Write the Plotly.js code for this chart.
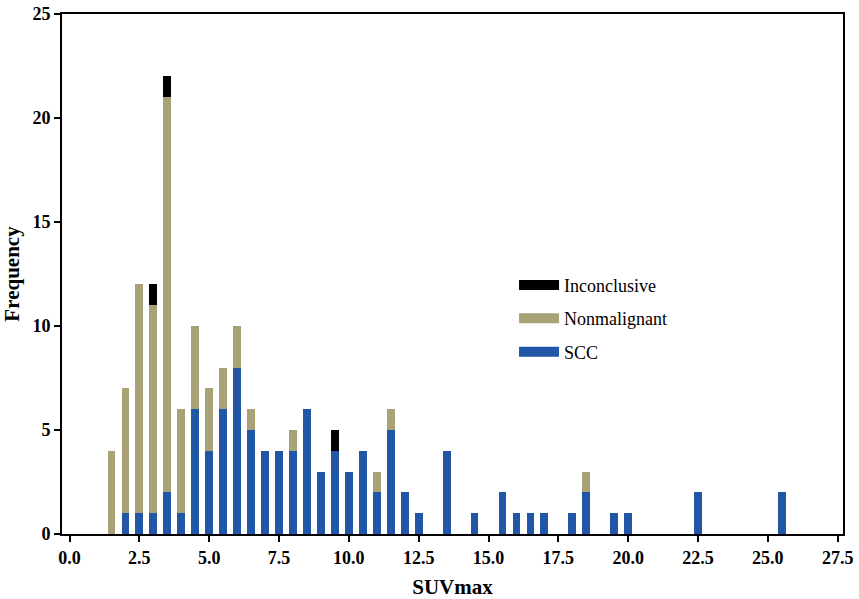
<!DOCTYPE html>
<html>
<head>
<meta charset="utf-8">
<script src="https://cdn.plot.ly/plotly-3.0.1.min.js"></script>
<style>html,body{margin:0;padding:0;background:#fff;}#chart{width:859px;height:599px;}</style>
</head>
<body>
<div id="chart"></div>
<script>
var suvBins = [1.5,2.0,2.5,3.0,3.5,4.0,4.5,5.0,5.5,6.0,6.5,7.0,7.5,8.0,8.5,9.0,9.5,10.0,10.5,11.0,11.5,12.0,12.5,13.5,14.5,15.5,16.0,16.5,17.0,18.0,18.5,19.5,20.0,22.5,25.5];
var sccCounts = [0,1,1,1,2,1,6,4,6,8,5,4,4,4,6,3,4,3,4,2,5,2,1,4,1,2,1,1,1,1,2,1,1,2,2];
var nonmalignantCounts = [4,6,11,10,19,5,4,3,2,2,1,0,0,1,0,0,0,0,0,1,1,0,0,0,0,0,0,0,0,0,1,0,0,0,0];
var inconclusiveCounts = [0,0,0,1,1,0,0,0,0,0,0,0,0,0,0,0,1,0,0,0,0,0,0,0,0,0,0,0,0,0,0,0,0,0,0];
var seriesNames = ['SCC','Nonmalignant','Inconclusive'];
var seriesColors = ['#2157A6','#A8A276','#000000'];
var xTickVals = [0,2.5,5,7.5,10,12.5,15,17.5,20,22.5,25,27.5];
var yTickVals = [0,5,10,15,20,25];

var serif = 'Liberation Serif, Times New Roman, serif';
var allCounts = [sccCounts, nonmalignantCounts, inconclusiveCounts];
var traces = [];
for (var i = 0; i < 3; i++) {
  traces.push({
    type: 'bar', x: suvBins, y: allCounts[i], name: seriesNames[i],
    width: 0.28, marker: {color: seriesColors[i], line: {width: 0}},
    showlegend: false, hoverinfo: 'x+y+name'
  });
}
// legend keys, top to bottom: Inconclusive, Nonmalignant, SCC
for (var j = 2; j >= 0; j--) {
  traces.push({
    type: 'scatter', mode: 'lines', x: [null], y: [null], name: seriesNames[j],
    line: {color: seriesColors[j], width: 10}, legendgroup: 'g' + j, showlegend: true, hoverinfo: 'skip'
  });
}

var layout = {
  width: 859, height: 599,
  margin: {l: 62, r: 16, t: 14, b: 65},
  paper_bgcolor: '#fff', plot_bgcolor: '#fff',
  barmode: 'stack',
  showlegend: true,
  legend: {
    x: 0.5788, xanchor: 'left', y: 0.514, yanchor: 'top',
    traceorder: 'grouped', tracegroupgap: 7,
    font: {family: serif, size: 18, color: '#000'},
    bgcolor: 'rgba(0,0,0,0)', itemwidth: 40
  },
  xaxis: {
    range: [-0.27, 27.69], tickmode: 'array', tickvals: xTickVals, tickformat: '.1f',
    showline: true, mirror: true, linecolor: '#000', linewidth: 2,
    ticks: 'outside', ticklen: 6, tickwidth: 2, tickcolor: '#000',
    showgrid: false, zeroline: false,
    tickfont: {family: serif, size: 18, color: '#000', weight: 'bold'},
    title: {text: '<b>SUVmax</b>', font: {family: serif, size: 21, color: '#000'}, standoff: 25}
  },
  yaxis: {
    range: [0, 25], tickmode: 'array', tickvals: yTickVals,
    showline: true, mirror: true, linecolor: '#000', linewidth: 2,
    ticks: 'outside', ticklen: 6, tickwidth: 2, tickcolor: '#000',
    showgrid: false, zeroline: false,
    tickfont: {family: serif, size: 18, color: '#000', weight: 'bold'},
    title: {text: '<b>Frequency</b>', font: {family: serif, size: 21, color: '#000'}, standoff: 8}
  }
};
Plotly.newPlot('chart', traces, layout, {displayModeBar: false, staticPlot: true});
</script>
</body>
</html>
